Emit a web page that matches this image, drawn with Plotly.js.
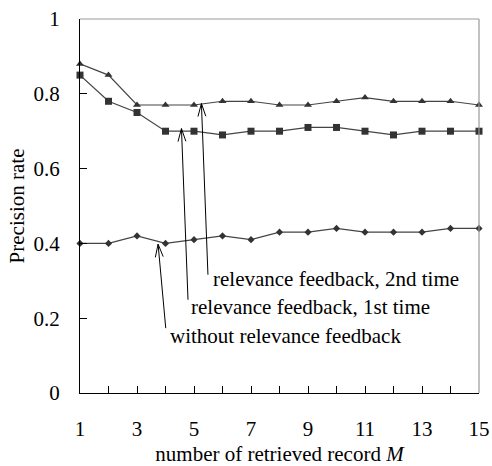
<!DOCTYPE html>
<html>
<head>
<meta charset="utf-8">
<script src="https://cdn.plot.ly/plotly-3.0.1.min.js"></script>
<style>html,body{margin:0;padding:0;background:#fff;}</style>
</head>
<body>
<div id="chart" style="width:492px;height:466px"></div>
<script>
var records = [1,2,3,4,5,6,7,8,9,10,11,12,13,14,15];
var secondTime = [0.88,0.85,0.77,0.77,0.77,0.78,0.78,0.77,0.77,0.78,0.79,0.78,0.78,0.78,0.77];
var firstTime  = [0.85,0.78,0.75,0.70,0.70,0.69,0.70,0.70,0.71,0.71,0.70,0.69,0.70,0.70,0.70];
var without    = [0.40,0.40,0.42,0.40,0.41,0.42,0.41,0.43,0.43,0.44,0.43,0.43,0.43,0.44,0.44];
var seriesNames = ['relevance feedback, 2nd time','relevance feedback, 1st time','without relevance feedback'];
var xTickVals = [1,3,5,7,9,11,13,15];
var yTickVals = [0,0.2,0.4,0.6,0.8,1];

var W = 492, H = 466, ML = 80, MR = 13, MT = 19, MB = 73;
var dark = '#333333';
var FAM = 'Liberation Serif';
function mkFont(sz){ return {family:FAM, size:sz, color:'#000'}; }
function tr(y, sym, size, name){
  return {x: records, y: y, type:'scatter', mode:'lines+markers', name:name,
    cliponaxis:false,
    line:{color:'#444', width:1.2},
    marker:{symbol:sym, size:size, color:dark}};
}
var traces = [
  tr(secondTime,'triangle-up',7,seriesNames[0]),
  tr(firstTime,'square',7,seriesNames[1]),
  tr(without,'diamond',5.5,seriesNames[2])
];
// pixel scale of the axes (for orienting the open arrow heads)
var pxX = (W-ML-MR)/14, pxY = (H-MT-MB)/1;
function lineAnn(o){
  o.text = ''; o.showarrow = true; o.arrowhead = 0; o.arrowwidth = 1; o.arrowcolor = '#000';
  o.standoff = 0; o.startstandoff = 0; o.borderpad = 0; o.font = {size:1};
  return o;
}
function mkArrow(x, y, ax, ay){
  var out = [lineAnn({x:x, y:y, ax:ax, ay:ay, xref:'x', yref:'y', axref:'x', ayref:'y'})];
  var dx = (ax-x)*pxX, dy = -(ay-y)*pxY, len = Math.sqrt(dx*dx+dy*dy);
  var ux = dx/len, uy = dy/len, L = 14, th = 17*Math.PI/180;
  [th, -th].forEach(function(a){
    var rx = ux*Math.cos(a) - uy*Math.sin(a), ry = ux*Math.sin(a) + uy*Math.cos(a);
    out.push(lineAnn({x:x, y:y, xref:'x', yref:'y', axref:'pixel', ayref:'pixel', ax:rx*L, ay:ry*L}));
  });
  return out;
}
function mkLabel(x, y, t){
  return {x:x, y:y, xref:'x', yref:'y', text:t, showarrow:false, xanchor:'left', yanchor:'middle', font:mkFont(21)};
}
var anns = [].concat(
  mkArrow(5.26, 0.774, 5.49, 0.315),
  mkArrow(4.56, 0.707, 4.79, 0.248),
  mkArrow(3.74, 0.398, 4.01, 0.172),
  [mkLabel(5.60, 0.304, seriesNames[0]),
   mkLabel(4.84, 0.229, seriesNames[1]),
   mkLabel(4.10, 0.152, seriesNames[2])]
);
var layout = {
  width:W, height:H,
  margin:{l:ML, r:MR, t:MT, b:MB},
  paper_bgcolor:'#fff', plot_bgcolor:'#fff',
  showlegend:false,
  font:mkFont(21),
  xaxis:{range:[1,15], tickvals:xTickVals, ticks:'inside', ticklen:7, tickcolor:'#000',
    showgrid:false, zeroline:false, showline:true, linecolor:'#000', linewidth:1.2,
    minor:{dtick:1, tick0:1, ticks:'inside', ticklen:7, tickcolor:'#000', showgrid:false},
    ticklabelstandoff:17, tickfont:mkFont(21),
    title:{text:'number of retrieved record <i>M</i>', font:mkFont(21), standoff:10}},
  yaxis:{range:[0,1], tickvals:yTickVals, ticks:'inside', ticklen:7, tickcolor:'#000',
    showgrid:false, zeroline:false, showline:true, linecolor:'#000', linewidth:1.2,
    ticklabelstandoff:15, tickfont:mkFont(21),
    title:{text:'Precision rate', font:mkFont(21), standoff:3}},
  shapes:[
    {type:'line', xref:'paper', yref:'paper', x0:0, x1:1, y0:1, y1:1, line:{color:'#999', width:1.2}},
    {type:'line', xref:'paper', yref:'paper', x0:1, x1:1, y0:0, y1:1, line:{color:'#999', width:1.2}}
  ],
  annotations:anns
};
Plotly.newPlot('chart', traces, layout, {displayModeBar:false});
</script>
</body>
</html>
